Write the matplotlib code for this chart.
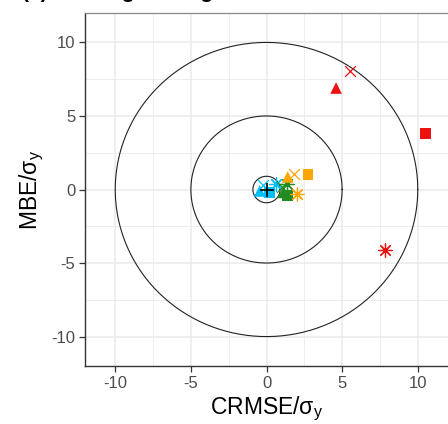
import numpy as np
import matplotlib
matplotlib.use("Agg")
import matplotlib.pyplot as plt
from matplotlib.ticker import MultipleLocator

plt.rcParams['font.family'] = ['Liberation Sans', 'DejaVu Sans']
plt.rcParams['mathtext.fontset'] = 'custom'
plt.rcParams['mathtext.rm'] = 'Liberation Sans'
plt.rcParams['mathtext.it'] = 'Liberation Sans:italic'
plt.rcParams['axes.unicode_minus'] = False

# ---- data ----
radii = [0.9, 5, 10]
series_colors = ['#00BFFF', '#228B22', '#FFA500', '#EE1111']  # blue, green, orange, red
shapes = ['triangle', 'x', 'square', 'asterisk']
blue_crmse = [-0.45, -0.2, 0.2, 0.6]
blue_mbe = [-0.1, 0.3, -0.2, 0.4]
green_crmse = [1.1, 1.0, 1.4, 1.35]
green_mbe = [-0.2, 0.2, -0.4, 0.35]
orange_crmse = [1.4, 1.85, 2.74, 2.0]
orange_mbe = [0.85, 1.03, 1.03, -0.3]
red_crmse = [4.6, 5.55, 10.5, 7.85]
red_mbe = [6.9, 8.05, 3.8, -4.1]
ref_crmse = [0.0]
ref_mbe = [0.0]
ticks = [-10, -5, 0, 5, 10]
title = "(a) Training Testing"

marker_map = {'triangle': '^', 'x': 'x', 'square': 's', 'asterisk': (8, 2, 0)}
size_map = {'triangle': 70, 'x': 60, 'square': 58, 'asterisk': 90}

fig = plt.figure(figsize=(4.48, 4.24), dpi=100)
ax = fig.add_axes([85/448, 58/424, 363/448, 353/424])
ax.set_xlim(-12, 12)
ax.set_ylim(-12, 12)

ax.xaxis.set_minor_locator(MultipleLocator(2.5))
ax.yaxis.set_minor_locator(MultipleLocator(2.5))
ax.set_xticks(ticks)
ax.set_yticks(ticks)
ax.grid(which='major', color='#EBEBEB', lw=1.1, zorder=0)
ax.grid(which='minor', color='#EBEBEB', lw=0.6, zorder=0)
ax.set_axisbelow(True)
ax.tick_params(which='minor', length=0)
ax.tick_params(which='major', length=4, width=0.9, color='#333333',
               labelcolor='#4D4D4D', labelsize=12, pad=3)

for s in ['left', 'bottom']:
    ax.spines[s].set_color('#333333')
    ax.spines[s].set_linewidth(1.0)
ax.spines['top'].set_color('#888888')
ax.spines['top'].set_linewidth(0.9)
ax.spines['right'].set_visible(False)

t = np.linspace(0, 2*np.pi, 400)
for r in radii:
    ax.plot(r*np.cos(t), r*np.sin(t), color='#222222', lw=0.8, zorder=2)

all_x = [blue_crmse, green_crmse, orange_crmse, red_crmse]
all_y = [blue_mbe, green_mbe, orange_mbe, red_mbe]
for col, xs, ys in zip(series_colors, all_x, all_y):
    for shp, xv, yv in zip(shapes, xs, ys):
        m = marker_map[shp]
        if shp in ('x', 'asterisk'):
            ax.scatter([xv], [yv], marker=m, s=size_map[shp], c=col, linewidths=0.9, zorder=3)
        else:
            ax.scatter([xv], [yv], marker=m, s=size_map[shp], c=col, edgecolors='none', zorder=3)

ax.scatter(ref_crmse, ref_mbe, marker='+', s=90, c='black', linewidths=1.2, zorder=4)

ax.set_xlabel(r'CRMSE/σ$_\mathrm{y}$', fontsize=16.5, labelpad=3, color='black')
ax.set_ylabel(r'MBE/σ$_\mathrm{y}$', fontsize=16.5, labelpad=4, color='black')

fig.text(22/448, 1 + 2/424, title, fontsize=15, fontweight='bold', va='baseline', ha='left')

fig.savefig('out.png', dpi=100)
